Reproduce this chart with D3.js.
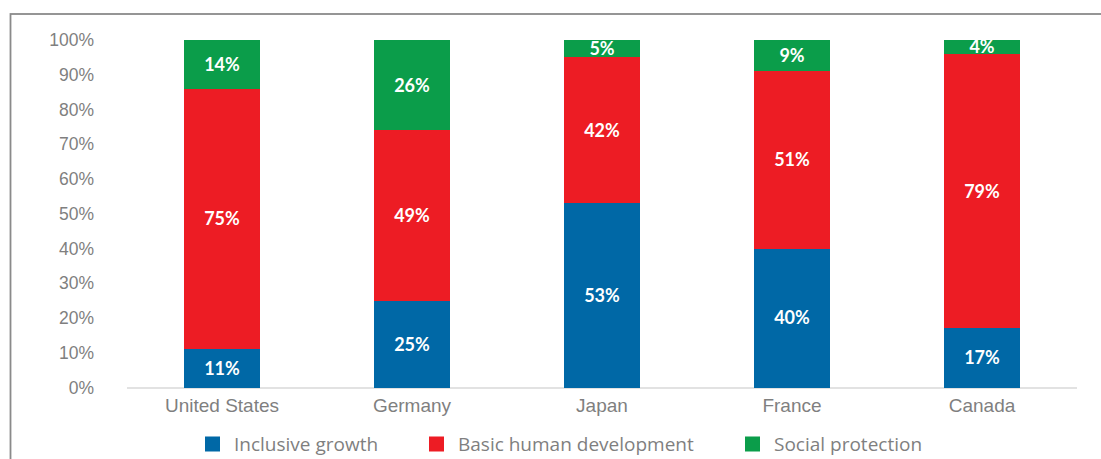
<!DOCTYPE html>
<html>
<head>
<meta charset="utf-8">
<script src="https://cdn.jsdelivr.net/npm/d3@7"></script>
<style>
  body { margin: 0; background: #fff; }
  svg { display: block; font-family: "Open Sans", Lato, sans-serif; }
</style>
</head>
<body>
<svg id="chart"></svg>
<script>
const countries = ["United States", "Germany", "Japan", "France", "Canada"];
const inclusiveGrowth = [11, 25, 53, 40, 17];
const basicHumanDev = [75, 49, 42, 51, 79];
const socialProtection = [14, 26, 5, 9, 4];
const seriesNames = ["Inclusive growth", "Basic human development", "Social protection"];
const yTicks = [0, 10, 20, 30, 40, 50, 60, 70, 80, 90, 100];

const COLOR_MAP = {
  "Inclusive growth": "#0068a6",
  "Basic human development": "#ed1c24",
  "Social protection": "#0b9d4a",
};

const TOTAL_WIDTH = 1101;
const TOTAL_HEIGHT = 459;
const margin = { top: 40, right: 24, bottom: 71.5, left: 127 };
const CHART_START_X = margin.left;
const CHART_END_X = TOTAL_WIDTH - margin.right;
const CHART_START_Y = margin.top;
const CHART_END_Y = TOTAL_HEIGHT - margin.bottom;

const rows = countries.map((c, i) => ({
  country: c,
  "Inclusive growth": inclusiveGrowth[i],
  "Basic human development": basicHumanDev[i],
  "Social protection": socialProtection[i],
}));

const svg = d3.select("#chart").attr("width", TOTAL_WIDTH).attr("height", TOTAL_HEIGHT);

// frame (runs off the right and bottom edges)
svg.append("rect")
  .attr("x", 10.5).attr("y", 14)
  .attr("width", 1200).attr("height", 600)
  .attr("fill", "none")
  .attr("stroke", "#8a8a8a")
  .attr("stroke-width", 1.8);

const xScale = d3.scaleBand().domain(countries).range([CHART_START_X, CHART_END_X]).paddingInner(0.6).paddingOuter(0.3);
const yScale = d3.scaleLinear().domain([0, 100]).range([CHART_END_Y, CHART_START_Y]);

// y axis labels
const yAxis = d3.axisLeft(yScale).tickValues(yTicks).tickSize(0).tickPadding(0).tickFormat((d) => d + "%");
const yG = svg.append("g").attr("transform", `translate(94, 0)`).call(yAxis);
yG.select(".domain").remove();
yG.selectAll("text").attr("fill", "#7f7f7f").style("font-size", "17.5px").style("font-family", null);

// baseline
svg.append("line")
  .attr("x1", CHART_START_X).attr("x2", CHART_END_X)
  .attr("y1", yScale(0) + 0.5).attr("y2", yScale(0) + 0.5)
  .attr("stroke", "#d9d9d9").attr("stroke-width", 1.5);

// x axis labels
const xAxis = d3.axisBottom(xScale).tickSize(0).tickPadding(0);
const xG = svg.append("g").attr("transform", `translate(0, ${CHART_END_Y + 11})`).call(xAxis);
xG.select(".domain").remove();
xG.selectAll("text").attr("fill", "#7f7f7f").style("font-size", "19px").style("font-family", null);

// stacked bars
const layers = d3.stack().keys(seriesNames)(rows);

const layerG = svg.selectAll(".layer")
  .data(layers)
  .join("g")
  .classed("layer", true)
  .attr("fill", (d) => COLOR_MAP[d.key]);

layerG.selectAll(".bar")
  .data((d) => d)
  .join("rect")
  .classed("bar", true)
  .attr("shape-rendering", "crispEdges")
  .attr("x", (d) => xScale(d.data.country))
  .attr("width", xScale.bandwidth())
  .attr("y", (d) => yScale(d[1]))
  .attr("height", (d) => yScale(d[0]) - yScale(d[1]));

layerG.selectAll(".val")
  .data((d) => d.map((s) => ({ s, key: d.key })))
  .join("text")
  .classed("val", true)
  .attr("x", (d) => xScale(d.s.data.country) + xScale.bandwidth() / 2)
  .attr("y", (d) => yScale((d.s[0] + d.s[1]) / 2))
  .attr("dy", "0.36em")
  .attr("text-anchor", "middle")
  .attr("fill", "#fff")
  .style("font-family", "Lato, sans-serif")
  .style("font-size", "18px")
  .style("font-weight", "bold")
  .text((d) => d.s.data[d.key] + "%");

// legend
const legendX = [205, 429, 745];
const legend = svg.selectAll(".legend")
  .data(seriesNames)
  .join("g")
  .classed("legend", true)
  .attr("transform", (d, i) => `translate(${legendX[i]}, 444)`);

legend.append("rect")
  .attr("x", 0).attr("y", -7.5)
  .attr("width", 15).attr("height", 15)
  .attr("fill", (d) => COLOR_MAP[d]);

legend.append("text")
  .attr("x", 29).attr("y", 0)
  .attr("dy", "0.36em")
  .attr("fill", "#7f7f7f")
  .style("font-size", "19px")
  .text((d) => d);
</script>
</body>
</html>
